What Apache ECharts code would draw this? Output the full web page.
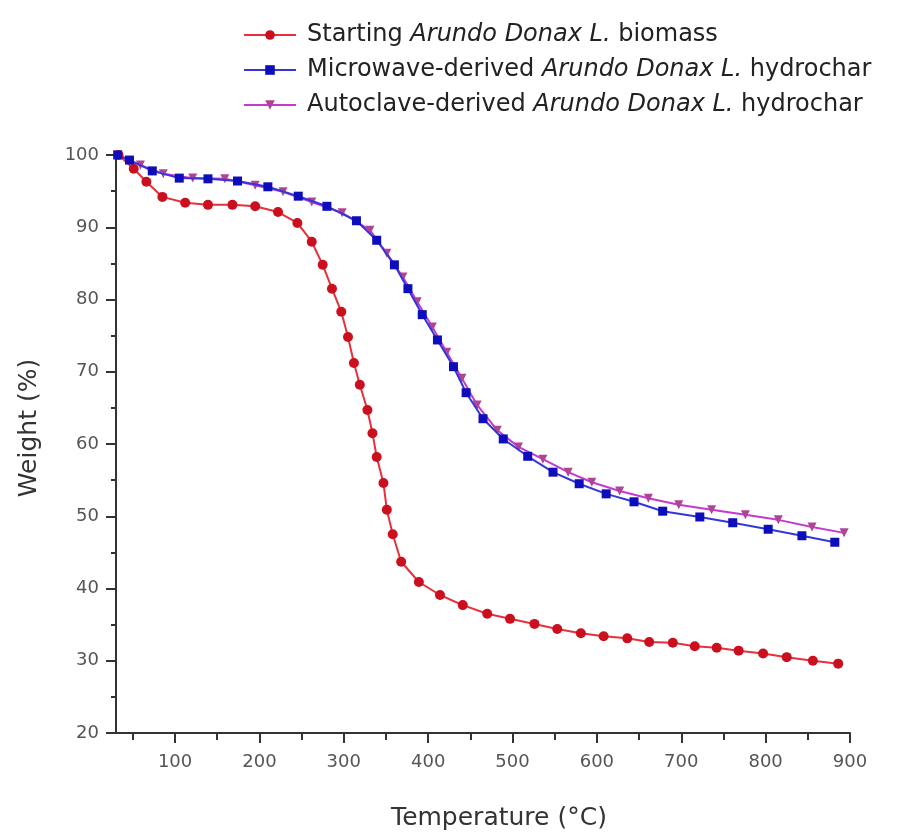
<!DOCTYPE html>
<html>
<head>
<meta charset="utf-8">
<script src="https://cdn.jsdelivr.net/npm/echarts@6/dist/echarts.min.js"></script>
<style>
html,body{margin:0;padding:0;background:#fff;}
#chart{width:909px;height:838px;}
</style>
</head>
<body>
<div id="chart"></div>
<script>
// Starting Arundo Donax L. biomass
var biomassT = [33,51,66,85,112,139,168,195,222,245,262,275,286,297,305,312,319,328,334,339,347,351,358,368,389,414,441,470,497,526,553,581,608,636,662,690,716,742,768,797,825,856,886];
var biomassW = [100,98.1,96.3,94.2,93.4,93.1,93.1,92.9,92.1,90.6,88.0,84.8,81.5,78.3,74.8,71.2,68.2,64.7,61.5,58.2,54.6,50.9,47.5,43.7,40.9,39.1,37.7,36.5,35.8,35.1,34.4,33.8,33.4,33.1,32.6,32.5,32.0,31.8,31.4,31.0,30.5,30.0,29.6];
// Microwave-derived hydrochar
var microT = [32,46,73,105,139,174,210,246,280,315,339,360,376,393,411,430,445,465,489,518,548,579,611,644,678,722,761,803,843,882];
var microW = [100,99.3,97.8,96.8,96.7,96.4,95.6,94.3,92.9,90.9,88.2,84.8,81.5,77.9,74.4,70.7,67.1,63.5,60.7,58.3,56.1,54.5,53.1,52.0,50.7,49.9,49.1,48.2,47.3,46.4];
// Autoclave-derived hydrochar
var autoT = [32,59,86,121,159,195,228,262,298,331,351,370,387,405,422,440,458,482,507,536,566,594,627,661,697,736,776,815,855,893];
var autoW = [100,98.6,97.4,96.8,96.7,95.8,94.9,93.5,92.0,89.6,86.4,83.1,79.7,76.2,72.7,69.1,65.4,61.9,59.6,57.9,56.1,54.7,53.5,52.5,51.6,50.9,50.2,49.5,48.5,47.7];

var seriesNames = ['Starting Arundo Donax L. biomass','Microwave-derived Arundo Donax L. hydrochar','Autoclave-derived Arundo Donax L. hydrochar'];
var xTickValues = [100,200,300,400,500,600,700,800,900];
var xMinorTickValues = [50,150,250,350,450,550,650,750,850];
var yMin = 20, yMax = 100, yStep = 10;
var xMin = 30, xMax = 900;

function zip(a,b){ return a.map(function(v,i){ return [v,b[i]]; }); }

var FONT = 'DejaVu Sans';
var chart = echarts.init(document.getElementById('chart'), null, {renderer:'canvas'});
chart.setOption({
  backgroundColor:'#ffffff',
  animation:false,
  legend:{
    orient:'vertical',
    left:238, top:18,
    itemWidth:52, itemHeight:12, itemGap:11,
    data:[seriesNames[0],seriesNames[1],seriesNames[2]],
    formatter:function(name){
      var parts = name.split('Arundo Donax L.');
      return '{n|'+parts[0]+'}{i|Arundo Donax L.}{n|'+parts[1]+'}';
    },
    textStyle:{
      padding:[0,0,0,6],
      rich:{
        n:{fontFamily:FONT,fontSize:24,color:'#222',lineHeight:28},
        i:{fontFamily:FONT,fontSize:24,fontStyle:'italic',color:'#222',lineHeight:28}
      }
    }
  },
  grid:{left:116,right:59,top:155,bottom:105,containLabel:false},
  xAxis:[{
    type:'value', min:xMin, max:xMax,
    name:'Temperature (°C)', nameLocation:'middle', nameGap:73,
    nameTextStyle:{fontFamily:FONT,fontSize:25,color:'#333',padding:[0,0,0,32]},
    axisLine:{show:true,onZero:false,lineStyle:{color:'#333',width:2}},
    axisTick:{show:true,length:10,customValues:xTickValues,lineStyle:{color:'#333',width:2}},
    axisLabel:{show:true,customValues:xTickValues,margin:20,fontFamily:FONT,fontSize:18,color:'#555'},
    splitLine:{show:false}
  },{
    type:'value', min:xMin, max:xMax, position:'bottom',
    axisLine:{show:false,onZero:false},
    axisTick:{show:true,length:7,customValues:xMinorTickValues,lineStyle:{color:'#333',width:2}},
    axisLabel:{show:false},
    splitLine:{show:false}
  }],
  yAxis:{
    type:'value', min:yMin, max:yMax, interval:yStep,
    name:'Weight (%)', nameLocation:'middle', nameGap:74,
    nameTextStyle:{fontFamily:FONT,fontSize:25,color:'#333',padding:[0,0,0,32]},
    axisLine:{show:true,lineStyle:{color:'#333',width:2}},
    axisTick:{show:true,length:10,lineStyle:{color:'#333',width:2}},
    minorTick:{show:true,splitNumber:2,length:5,lineStyle:{color:'#333',width:2}},
    axisLabel:{margin:17,fontFamily:FONT,fontSize:18,color:'#555'},
    splitLine:{show:false}
  },
  series:[{
    name:seriesNames[0], type:'line', data:zip(biomassT,biomassW), z:3,
    symbol:'circle', symbolSize:10,
    lineStyle:{color:'#e8303a',width:2},
    itemStyle:{color:'#cc0f1f'}
  },{
    name:seriesNames[2], type:'line', data:zip(autoT,autoW), z:2,
    symbol:'triangle', symbolRotate:180, symbolSize:9,
    lineStyle:{color:'#c43ad0',width:2},
    itemStyle:{color:'#b04494'}
  },{
    name:seriesNames[1], type:'line', data:zip(microT,microW), z:3,
    symbol:'rect', symbolSize:9,
    lineStyle:{color:'#3535dc',width:2},
    itemStyle:{color:'#0d0dbb'}
  }]
});
</script>
</body>
</html>
